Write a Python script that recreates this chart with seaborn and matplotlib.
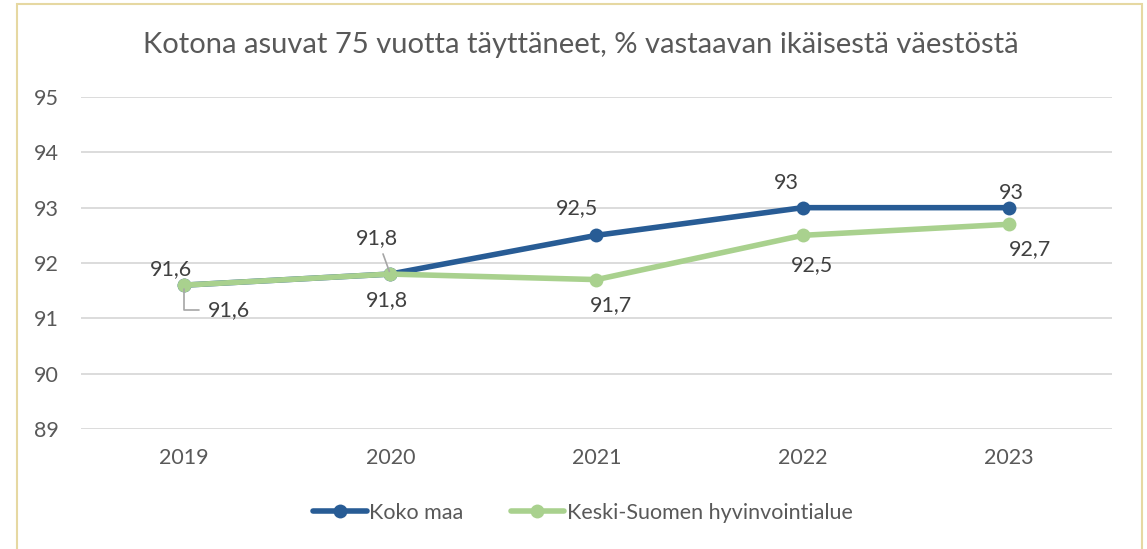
import pandas as pd
import matplotlib.pyplot as plt
import seaborn as sns
from matplotlib.patches import Rectangle

years = ['2019', '2020', '2021', '2022', '2023']
koko_maa = [91.6, 91.8, 92.5, 93.0, 93.0]
keski_suomi = [91.6, 91.8, 91.7, 92.5, 92.7]
series_names = ['Koko maa', 'Keski-Suomen hyvinvointialue']
y_ticks = [89, 90, 91, 92, 93, 94, 95]

# label offsets in pixels (dx, dy)
koko_offsets = [(-13, 16), (-13, 36), (-19, 27), (-16, 25), (2, 15)]
keski_offsets = [(45, -25), (-3, -26), (15, -25), (9, -30), (21, -25)]


def fmt(v):
    s = f'{v:.1f}'.replace('.', ',')
    return s[:-2] if s.endswith(',0') else s


def generate_chart():
    sns.set_theme(style='white')
    plt.rcParams['font.family'] = ['Lato', 'DejaVu Sans']

    df = pd.DataFrame({'Vuosi': years, series_names[0]: koko_maa, series_names[1]: keski_suomi})
    long_df = df.melt(id_vars='Vuosi', var_name='Alue', value_name='Osuus')

    fig = plt.figure(figsize=(11.47, 5.49), dpi=100)
    ax = fig.add_axes([0.0706, 0.2186, 0.8989, 0.6047])

    palette = {series_names[0]: '#285C95', series_names[1]: '#A9D18E'}
    # blue first, green drawn on top as in the original
    sns.lineplot(data=long_df, x='Vuosi', y='Osuus', hue='Alue', palette=palette,
                 marker='o', markersize=10, markeredgewidth=0, linewidth=4,
                 hue_order=series_names, ax=ax, legend=False)

    ax.set_xlim(-0.5, len(years) - 0.5)
    ax.set_ylim(89, 95)
    ax.set_yticks(y_ticks)
    ax.yaxis.grid(True, color='#D9D9D9', linewidth=1.3)
    ax.set_axisbelow(True)
    for s in ax.spines.values():
        s.set_visible(False)
    ax.tick_params(axis='both', length=0, labelsize=15.5, colors='#595959')
    ax.tick_params(axis='x', pad=14)
    ax.tick_params(axis='y', pad=16)
    ax.set_xlabel('')
    ax.set_ylabel('')

    # data labels
    fs = 15.5
    for i, v in enumerate(koko_maa):
        dx, dy = koko_offsets[i]
        arrow = dict(arrowstyle='-', color='#A6A6A6', lw=1.2, shrinkA=2, shrinkB=2) if i == 1 else None
        ax.annotate(fmt(v), (i, v), xytext=(dx, dy), textcoords='offset pixels',
                    ha='center', va='center', fontsize=fs, color='#404040', arrowprops=arrow)
    for i, v in enumerate(keski_suomi):
        dx, dy = keski_offsets[i]
        arrow = None
        if i == 0:
            arrow = dict(arrowstyle='-', color='#A6A6A6', lw=1.2, shrinkA=4, shrinkB=3,
                         connectionstyle='angle,angleA=0,angleB=90,rad=0')
        ax.annotate(fmt(v), (i, v), xytext=(dx, dy), textcoords='offset pixels',
                    ha='center', va='center', fontsize=fs, color='#404040', arrowprops=arrow)

    fig.text(0.506, 0.918, 'Kotona asuvat 75 vuotta täyttäneet, % vastaavan ikäisestä väestöstä',
             ha='center', va='center', fontsize=21, color='#595959')

    handles = [plt.Line2D([], [], color=palette[n], marker='o', markersize=10, markeredgewidth=0,
                          linewidth=4, solid_capstyle='round') for n in series_names]
    fig.legend(handles, series_names, loc='center', bbox_to_anchor=(0.508, 0.066), ncol=2,
               frameon=False, fontsize=15.5, labelcolor='#595959', handlelength=2.5,
               handletextpad=0.1, columnspacing=2.2)

    fig.patches.append(Rectangle((0.015, -0.01), 0.981, 1.002, transform=fig.transFigure,
                                 fill=False, edgecolor='#E6D8A2', linewidth=1.5))

    fig.savefig('out.png', dpi=100, facecolor='white')


if __name__ == '__main__':
    generate_chart()
